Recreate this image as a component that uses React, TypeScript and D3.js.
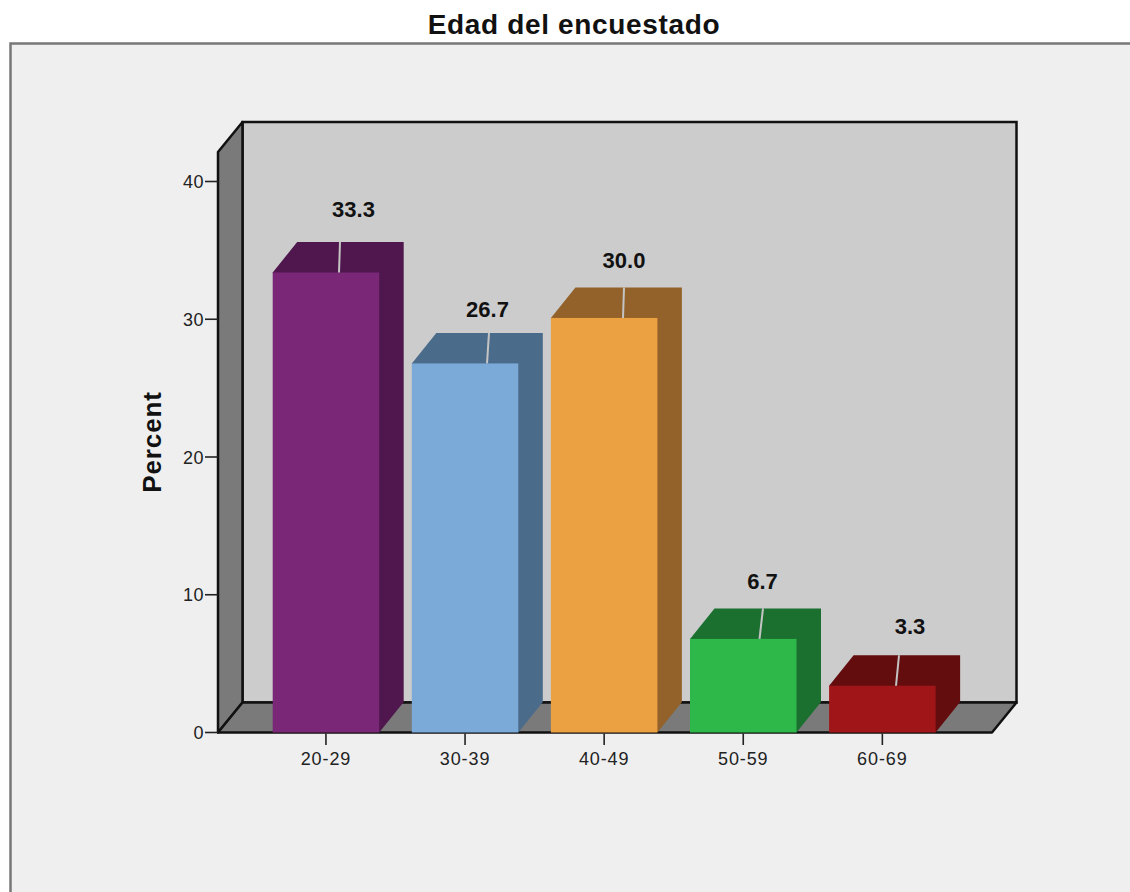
import React from "react";
import * as d3 from "d3";

const categories = ["20-29", "30-39", "40-49", "50-59", "60-69"];
const percents = [33.3, 26.7, 30.0, 6.7, 3.3];
const valueTicks = [0, 10, 20, 30, 40];
const frontColors = ["#7b2778", "#7ba9d8", "#eba042", "#2eb84a", "#a01518"];
const sideColors = ["#4f174d", "#4b6b8a", "#93622a", "#1b7030", "#640d0f"];
// Horizontal run of the seam on each bar's top face, from front-edge point to back-edge point
const seamFront = [339, 487, 623, 759.5, 896];
const seamBack = [340, 489, 624, 763, 899];
// Value label placement relative to the back edge of each bar's top face
const labelCenterFromSeam = [13.5, -1.5, 0, -0.5, 11];
const labelBaselineGap = [25, 16, 19.5, 19, 21];

const depthX = 24.5;
const depthY = -30;
const barDepthY = -30.5;
const floorLeft = 218;
const floorRight = 992;
const baseY = 732.5;
const axisTopY = 152;

const y = d3.scaleLinear().domain([0, 40]).range([baseY, 181.5]);
// Bar tops sit slightly above the tick positions of the front axis
const yBar = d3.scaleLinear().domain([0, 40]).range([baseY - 1.3, 181.5 - 1.3]);
const x = d3
  .scaleBand<string>()
  .domain(categories)
  .range([256.4, 951.9])
  .paddingInner(0.2344)
  .paddingOuter(0.1172);

const poly = (pts: [number, number][]) => d3.line()(pts) + "Z";
const labelFont = "Arial, 'Liberation Sans', sans-serif";

export default function App() {
  const bw = x.bandwidth();
  return (
    <svg
      width={1130}
      height={892}
      style={{ position: "absolute", left: 0, top: 0, display: "block" }}
      fontFamily={labelFont}
    >
      <rect width={1130} height={892} fill="#ffffff" />
      <rect x={10.5} y={43.5} width={1125} height={855} fill="#efefef" stroke="#777" strokeWidth={2.5} />
      <text x={574} y={34} textAnchor="middle" fontSize={28} fontWeight={700} letterSpacing={0.65} fill="#111">
        Edad del encuestado
      </text>

      {/* Back wall, side wall and floor of the 3-D frame */}
      <rect
        x={floorLeft + depthX}
        y={axisTopY + depthY}
        width={floorRight - floorLeft}
        height={baseY - axisTopY}
        fill="#cccccc"
        stroke="#111"
        strokeWidth={2.5}
      />
      <path
        d={poly([
          [floorLeft, axisTopY],
          [floorLeft + depthX, axisTopY + depthY],
          [floorLeft + depthX, baseY + depthY],
          [floorLeft, baseY],
        ])}
        fill="#7a7a7a"
        stroke="#111"
        strokeWidth={2.5}
        strokeLinejoin="round"
      />
      <path
        d={poly([
          [floorLeft, baseY],
          [floorLeft + depthX, baseY + depthY],
          [floorRight + depthX, baseY + depthY],
          [floorRight, baseY],
        ])}
        fill="#7a7a7a"
        stroke="#111"
        strokeWidth={2.5}
        strokeLinejoin="round"
      />

      {/* Value axis */}
      {valueTicks.map((t) => (
        <g key={t}>
          <line x1={floorLeft - 13} x2={floorLeft} y1={y(t)} y2={y(t)} stroke="#222" strokeWidth={1.6} />
          <text x={floorLeft - 14} y={y(t) + 6.5} textAnchor="end" fontSize={18} letterSpacing={0.5} fill="#222">
            {t}
          </text>
        </g>
      ))}
      <text
        transform="translate(161,442) rotate(-90)"
        textAnchor="middle"
        fontSize={26}
        fontWeight={700}
        letterSpacing={0.9}
        fill="#111"
      >
        Percent
      </text>

      {/* Bars: the top and side faces share one shape, the front face lies over it */}
      {categories.map((c, i) => {
        const x0 = x(c) as number;
        const x1 = x0 + bw;
        const top = yBar(percents[i]);
        return (
          <g key={c}>
            <path
              d={poly([
                [x0, top],
                [x0 + depthX, top + barDepthY],
                [x1 + depthX, top + barDepthY],
                [x1 + depthX, baseY + barDepthY],
                [x1, baseY],
              ])}
              fill={sideColors[i]}
            />
            <rect x={x0} y={top} width={bw} height={baseY - top} fill={frontColors[i]} />
            <line
              x1={seamFront[i]}
              y1={top}
              x2={seamBack[i]}
              y2={top + barDepthY}
              stroke="#c4c4c4"
              strokeWidth={2}
            />
            <text
              x={seamBack[i] + labelCenterFromSeam[i]}
              y={top + barDepthY - labelBaselineGap[i]}
              textAnchor="middle"
              fontSize={22}
              fontWeight={700}
              fill="#111"
            >
              {percents[i].toFixed(1)}
            </text>
            <line
              x1={x0 + bw / 2}
              x2={x0 + bw / 2}
              y1={baseY + 1}
              y2={baseY + 12.5}
              stroke="#222"
              strokeWidth={1.6}
            />
            <text
              x={x0 + bw / 2}
              y={baseY + 32.5}
              textAnchor="middle"
              fontSize={18}
              letterSpacing={0.9}
              fill="#222"
            >
              {c}
            </text>
          </g>
        );
      })}
    </svg>
  );
}
